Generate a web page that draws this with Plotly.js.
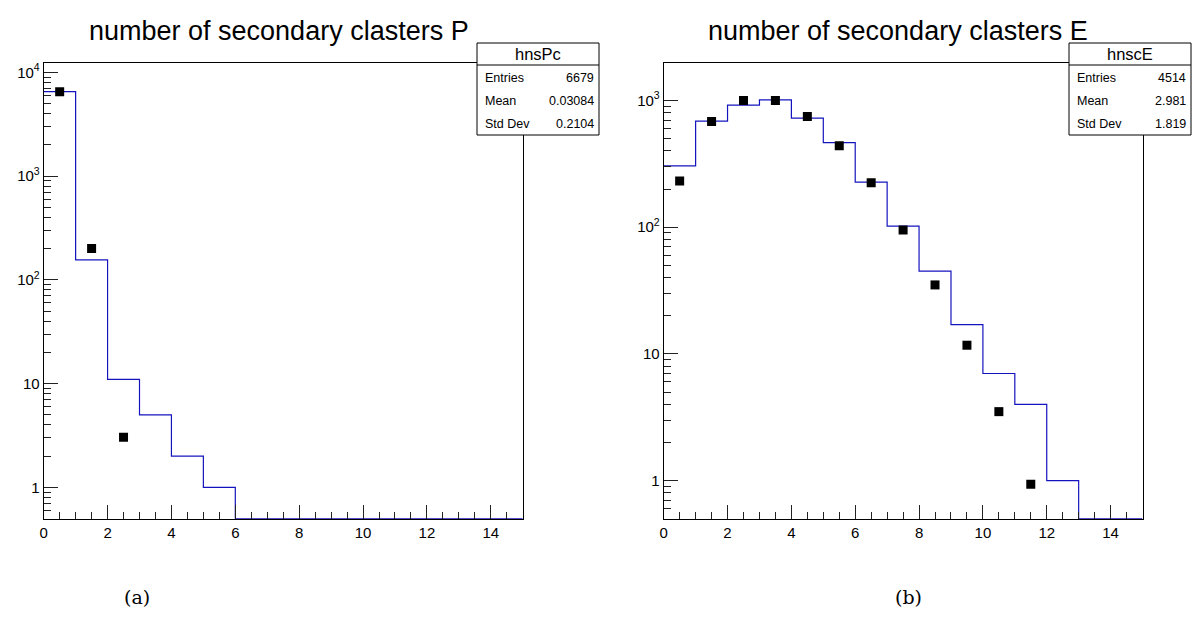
<!DOCTYPE html>
<html>
<head>
<meta charset="utf-8">
<script src="https://cdn.plot.ly/plotly-3.0.1.min.js"></script>
<style>html,body{margin:0;padding:0;background:#fff;}#chart{width:1192px;height:623px;}</style>
</head>
<body>
<div id="chart"></div>
<script>
// ---- data ----
const binEdges = [0,1,2,3,4,5,6,7,8,9,10,11,12,13,14,15];
const histP = [6504,156,11,5,2,1,0,0,0,0,0,0,0,0,0];
const pointsPx = [0.5,1.5,2.5];
const pointsPy = [6500,201,3.05];
const histE = [305,686,919,1012,725,464,227,102,45,17,7,4,1,0,0];
const pointsEx = [0.5,1.5,2.5,3.5,4.5,5.5,6.5,7.5,8.5,9.5,10.5,11.5];
const pointsEy = [231,683,1000,1000,748,440,224,95,35,11.7,3.5,0.935];
const titleP = "number of secondary clasters P";
const titleE = "number of secondary clasters E";
const statsP = {name:"hnsPc", rows:[["Entries","6679"],["Mean","0.03084"],["Std Dev","0.2104"]]};
const statsE = {name:"hnscE", rows:[["Entries","4514"],["Mean","2.981"],["Std Dev","1.819"]]};
const yTickValsP = [1,10,100,1000,10000];
const yTickTextP = ["1","10","10<sup>2</sup>","10<sup>3</sup>","10<sup>4</sup>"];
const yTickValsE = [1,10,100,1000];
const yTickTextE = ["1","10","10<sup>2</sup>","10<sup>3</sup>"];
const captions = ["(a)","(b)"];

// ---- geometry ----
const W = 1192, H = 623;
const px = x => x / W;
const py = y => 1 - y / H;
const yMin = 0.5;
const yTopP = Math.pow(10, 4.0926);
const yTopE = Math.pow(10, 3.298);
const FONT = "Liberation Sans, Arial, sans-serif";

function stepTrace(counts, xa, ya) {
  const ys = counts.map(c => c > 0 ? c : yMin);
  ys.push(ys[ys.length - 1]);
  return {x: binEdges, y: ys, xaxis: xa, yaxis: ya, mode: 'lines',
    line: {shape: 'hv', color: 'rgb(20,20,190)', width: 1.2}, hoverinfo: 'skip', cliponaxis: false};
}
function markerTrace(xs, ys, xa, ya) {
  return {x: xs, y: ys, xaxis: xa, yaxis: ya, mode: 'markers',
    marker: {symbol: 'square', size: 9, color: 'black'}, hoverinfo: 'skip'};
}
function minorVals(maxDec) {
  const v = [];
  for (let d = -1; d <= maxDec; d++) for (let k = 2; k <= 9; k++) v.push(k * Math.pow(10, d));
  return v;
}
function xAxis(domain, anchor) {
  return {domain: domain, anchor: anchor, range: [0, 15], dtick: 2, tick0: 0,
    ticks: 'inside', ticklen: 14, tickwidth: 1, tickcolor: '#222',
    showline: true, linecolor: 'black', linewidth: 1, mirror: true,
    showgrid: false, zeroline: false,
    tickfont: {family: FONT, size: 15, color: 'black'},
    minor: {dtick: 0.5, tick0: 0, ticks: 'inside', ticklen: 7, tickcolor: '#222', tickwidth: 1}};
}
function yAxis(domain, anchor, top, vals, text, maxDec) {
  return {domain: domain, anchor: anchor, type: 'log',
    range: [Math.log10(yMin), Math.log10(top)],
    tickmode: 'array', tickvals: vals, ticktext: text,
    ticks: 'inside', ticklen: 14, tickwidth: 1, tickcolor: '#222',
    showline: true, linecolor: 'black', linewidth: 1, mirror: true,
    showgrid: false, zeroline: false,
    tickfont: {family: FONT, size: 15, color: 'black'},
    minor: {tickmode: 'array', tickvals: minorVals(maxDec), ticks: 'inside', ticklen: 7, tickcolor: '#222', tickwidth: 1}};
}

const yDom = [py(518.7), py(62.7)];
const layout = {
  width: W, height: H, margin: {l: 0, r: 0, t: 0, b: 0},
  paper_bgcolor: 'white', plot_bgcolor: 'white', showlegend: false,
  xaxis: xAxis([px(43.7), px(522.7)], 'y'),
  yaxis: yAxis(yDom, 'x', yTopP, yTickValsP, yTickTextP, 4),
  xaxis2: xAxis([px(663.7), px(1142.5)], 'y2'),
  yaxis2: yAxis(yDom, 'x2', yTopE, yTickValsE, yTickTextE, 3),
  shapes: [], annotations: []
};

function addStats(st, x0, x1) {
  const y0 = 43, y1 = 135, ySep = 65;
  layout.shapes.push({type: 'rect', xref: 'paper', yref: 'paper', x0: px(x0), x1: px(x1), y0: py(y1), y1: py(y0),
    line: {color: 'black', width: 1}, fillcolor: 'white', layer: 'above'});
  layout.shapes.push({type: 'line', xref: 'paper', yref: 'paper', x0: px(x0), x1: px(x1), y0: py(ySep), y1: py(ySep),
    line: {color: 'black', width: 1}, layer: 'above'});
  layout.annotations.push({xref: 'paper', yref: 'paper', x: px((x0 + x1) / 2), y: py(54), text: st.name,
    showarrow: false, xanchor: 'center', yanchor: 'middle', font: {family: FONT, size: 16.5, color: 'black'}});
  const rowY = [78, 101, 124];
  st.rows.forEach((r, i) => {
    layout.annotations.push({xref: 'paper', yref: 'paper', x: px(x0 + 6), y: py(rowY[i]), text: r[0],
      showarrow: false, xanchor: 'left', yanchor: 'middle', font: {family: FONT, size: 12.5, color: 'black'}});
    layout.annotations.push({xref: 'paper', yref: 'paper', x: px(x1 - 3), y: py(rowY[i]), text: r[1],
      showarrow: false, xanchor: 'right', yanchor: 'middle', font: {family: FONT, size: 12.5, color: 'black'}});
  });
}
addStats(statsP, 477, 599);
addStats(statsE, 1069, 1191);

layout.annotations.push({xref: 'paper', yref: 'paper', x: px(279), y: py(31), text: titleP, showarrow: false,
  xanchor: 'center', yanchor: 'middle', font: {family: FONT, size: 27, color: 'black'}});
layout.annotations.push({xref: 'paper', yref: 'paper', x: px(898), y: py(31), text: titleE, showarrow: false,
  xanchor: 'center', yanchor: 'middle', font: {family: FONT, size: 27, color: 'black'}});
layout.annotations.push({xref: 'paper', yref: 'paper', x: px(137), y: py(597), text: captions[0], showarrow: false,
  xanchor: 'center', yanchor: 'middle', font: {family: 'DejaVu Serif, Liberation Serif, serif', size: 19, color: 'black'}});
layout.annotations.push({xref: 'paper', yref: 'paper', x: px(908), y: py(597), text: captions[1], showarrow: false,
  xanchor: 'center', yanchor: 'middle', font: {family: 'DejaVu Serif, Liberation Serif, serif', size: 19, color: 'black'}});

const data = [
  stepTrace(histP, 'x', 'y'),
  markerTrace(pointsPx, pointsPy, 'x', 'y'),
  stepTrace(histE, 'x2', 'y2'),
  markerTrace(pointsEx, pointsEy, 'x2', 'y2')
];
Plotly.newPlot('chart', data, layout, {staticPlot: true, displayModeBar: false});
</script>
</body>
</html>
